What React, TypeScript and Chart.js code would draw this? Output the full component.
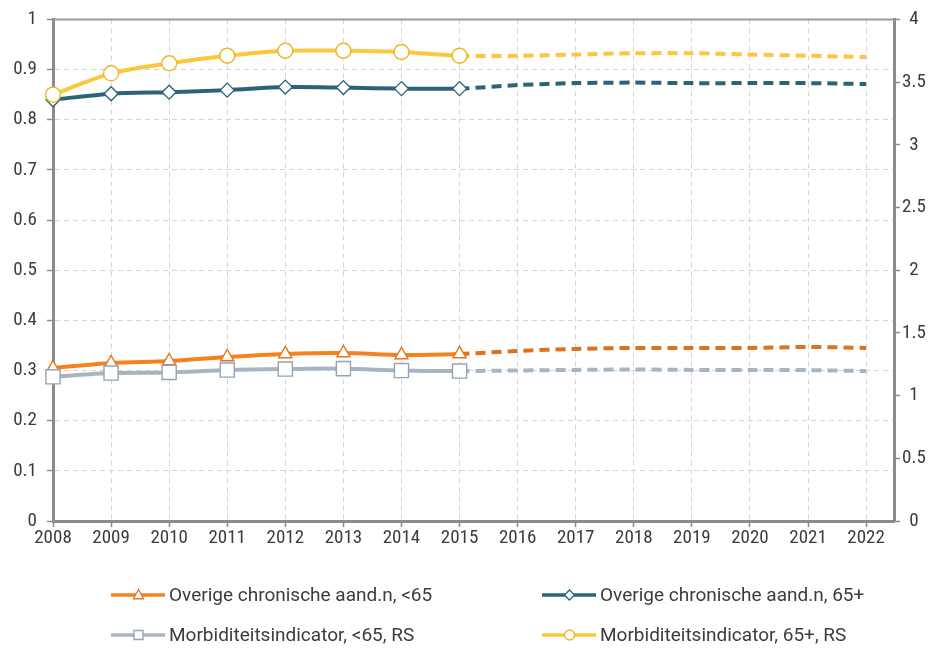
import React, { useEffect, useRef } from "react";
import { Chart, registerables } from "chart.js";

Chart.register(...registerables);

const years = [2008, 2009, 2010, 2011, 2012, 2013, 2014, 2015, 2016, 2017, 2018, 2019, 2020, 2021, 2022];
const overigeJong = [0.305, 0.315, 0.319, 0.327, 0.333, 0.335, 0.331, 0.333, 0.339, 0.343, 0.345, 0.345, 0.345, 0.347, 0.345];
const overigeOud = [0.84, 0.852, 0.855, 0.859, 0.865, 0.864, 0.862, 0.862, 0.869, 0.873, 0.874, 0.873, 0.873, 0.873, 0.871];
const morbJong = [1.15, 1.18, 1.185, 1.204, 1.212, 1.215, 1.2, 1.196, 1.2, 1.205, 1.208, 1.205, 1.205, 1.203, 1.196];
const morbOud = [3.4, 3.57, 3.65, 3.71, 3.75, 3.75, 3.74, 3.71, 3.71, 3.72, 3.73, 3.73, 3.72, 3.71, 3.7];
const seriesLabels = [
  "Overige chronische aand.n, <65",
  "Overige chronische aand.n, 65+",
  "Morbiditeitsindicator, <65, RS",
  "Morbiditeitsindicator, 65+, RS",
];
const lastObservedIndex = 7; // 2015

const TICK_FONT = "'Roboto Condensed', 'DejaVu Sans Condensed', sans-serif";
const LEGEND_FONT = "Roboto, 'DejaVu Sans', sans-serif";
const TEXT = "#3c3c3c";
const AXIS = "#8c8c8c";

type Shape = "triangle" | "rectRot" | "rect" | "circle";

function drawMarker(ctx: CanvasRenderingContext2D, shape: Shape, x: number, y: number, r: number, color: string) {
  ctx.save();
  ctx.beginPath();
  if (shape === "circle") {
    ctx.arc(x, y, r, 0, Math.PI * 2);
  } else if (shape === "rect") {
    ctx.rect(x - r, y - r, 2 * r, 2 * r);
  } else if (shape === "rectRot") {
    ctx.moveTo(x, y - r);
    ctx.lineTo(x + r, y);
    ctx.lineTo(x, y + r);
    ctx.lineTo(x - r, y);
    ctx.closePath();
  } else {
    ctx.moveTo(x, y - r * 1.1);
    ctx.lineTo(x + r, y + r * 0.75);
    ctx.lineTo(x - r, y + r * 0.75);
    ctx.closePath();
  }
  ctx.fillStyle = "#ffffff";
  ctx.fill();
  ctx.lineWidth = 1.3;
  ctx.strokeStyle = color;
  ctx.stroke();
  ctx.restore();
}

export default function App() {
  const ref = useRef<HTMLCanvasElement | null>(null);

  useEffect(() => {
    if (!ref.current) return;

    const colors = ["#f5821f", "#2b6479", "#a9b4c3", "#fdc63c"];
    const dashColors = ["#e0711b", "#2b6479", "#a9b4c3", "#fdc63c"];
    const markerColors = ["#e8731a", "#2b6479", "#97a3b4", "#f0b323"];
    const shapes: Shape[] = ["triangle", "rectRot", "rect", "circle"];
    const radii = [7.5, 7, 10, 7.5];
    const values = [overigeJong, overigeOud, morbJong, morbOud];
    const axes = ["y", "y", "y1", "y1"];
    const orders = [3, 2, 1, 0];

    const datasets = values.map((vals, i) => ({
      label: seriesLabels[i],
      data: vals.map((v, j) => ({ x: years[j], y: v })),
      yAxisID: axes[i],
      borderColor: colors[i],
      borderWidth: 4,
      tension: 0.3,
      clip: false as any,
      order: orders[i],
      pointStyle: shapes[i],
      pointRadius: (c: any) => (c.dataIndex <= lastObservedIndex ? radii[i] : 0),
      pointHoverRadius: 0,
      pointBackgroundColor: "#ffffff",
      pointBorderColor: markerColors[i],
      pointBorderWidth: 1.4,
      segment: {
        borderDash: (c: any) => (c.p0DataIndex >= lastObservedIndex ? [10, 6] : undefined),
        borderColor: (c: any) => (c.p0DataIndex >= lastObservedIndex ? dashColors[i] : undefined),
      },
    }));

    const decorPlugin = {
      id: "decor",
      afterDraw(chart: any) {
        const { ctx, chartArea } = chart;
        ctx.save();
        // top frame line
        ctx.beginPath();
        ctx.strokeStyle = "#9a9a9a";
        ctx.lineWidth = 2;
        ctx.moveTo(chartArea.left, chartArea.top);
        ctx.lineTo(chartArea.right, chartArea.top);
        ctx.stroke();

        // legend
        const cols = [103, 534];
        const rows = [587, 627];
        ctx.font = `19px ${LEGEND_FONT}`;
        ctx.textBaseline = "middle";
        ctx.textAlign = "left";
        for (let i = 0; i < 4; i++) {
          const x0 = cols[i % 2];
          const y0 = rows[Math.floor(i / 2)];
          ctx.beginPath();
          ctx.strokeStyle = colors[i];
          ctx.lineWidth = 3.5;
          ctx.moveTo(x0, y0);
          ctx.lineTo(x0 + 54, y0);
          ctx.stroke();
          drawMarker(ctx, shapes[i], x0 + 27.5, y0, i === 2 ? 4.5 : 5, markerColors[i]);
          ctx.fillStyle = TEXT;
          ctx.fillText(seriesLabels[i], x0 + 58, y0 + 1);
        }
        ctx.restore();
      },
    };

    const gridCommon = {
      color: "#d4d4d4",
      lineWidth: 1,
      tickLength: 6,
      tickColor: AXIS,
      tickWidth: 1.5,
    };

    const chart = new Chart(ref.current, {
      type: "line",
      data: { datasets: datasets as any },
      plugins: [decorPlugin],
      options: {
        animation: false,
        responsive: true,
        maintainAspectRatio: false,
        layout: { padding: { top: 8, bottom: 93, left: 0, right: 0 } },
        plugins: { legend: { display: false }, tooltip: { enabled: false } },
        scales: {
          x: {
            type: "linear",
            min: 2008,
            max: 2022.48,
            afterFit: (s: any) => {
              s.height = 30;
            },
            ticks: {
              stepSize: 1,
              includeBounds: false,
              autoSkip: false,
              maxRotation: 0,
              padding: 0,
              color: TEXT,
              font: { family: TICK_FONT, size: 19 },
              callback: (v: any) => String(v),
            },
            grid: gridCommon,
            border: { display: true, color: AXIS, width: 3, dash: [5, 4] },
          },
          y: {
            type: "linear",
            position: "left",
            min: 0,
            max: 1,
            afterFit: (s: any) => {
              s.width = 45;
              s.paddingTop = 0;
              s.paddingBottom = 0;
            },
            ticks: {
              stepSize: 0.1,
              padding: 10,
              color: TEXT,
              font: { family: TICK_FONT, size: 19 },
              callback: (v: any) => String(Math.round(v * 10) / 10),
            },
            grid: gridCommon,
            border: { display: true, color: AXIS, width: 3, dash: [5, 4] },
          },
          y1: {
            type: "linear",
            position: "right",
            min: 0,
            max: 4,
            afterFit: (s: any) => {
              s.width = 37;
              s.paddingTop = 0;
              s.paddingBottom = 0;
            },
            ticks: {
              stepSize: 0.5,
              padding: 2,
              crossAlign: "center",
              color: TEXT,
              font: { family: TICK_FONT, size: 19 },
              callback: (v: any) => String(Math.round(v * 10) / 10),
            },
            grid: { ...gridCommon, drawOnChartArea: false },
            border: { display: true, color: AXIS, width: 3 },
          },
        },
      },
    });

    return () => chart.destroy();
  }, []);

  return (
    <div style={{ position: "relative", width: 923, height: 636 }}>
      <canvas ref={ref} />
    </div>
  );
}
